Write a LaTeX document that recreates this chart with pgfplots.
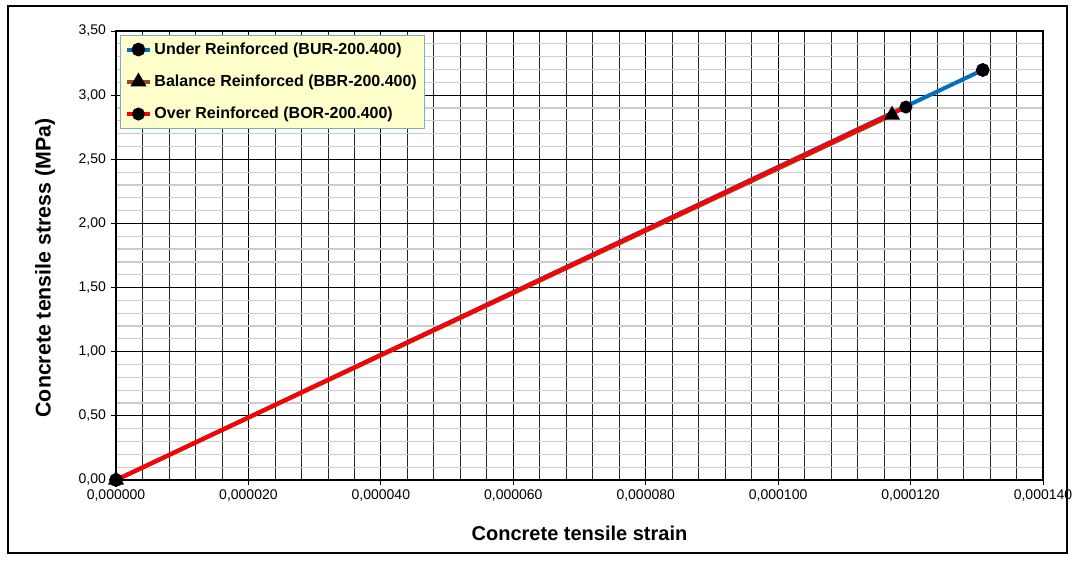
\documentclass[border=0pt]{standalone}
\usepackage{pgfplots}
\pgfplotsset{compat=1.18}
\usepackage{fontspec}
\setmainfont{Liberation Sans}
\definecolor{ublue}{RGB}{0,112,192}
\definecolor{bbrown}{RGB}{150,75,30}
\definecolor{legfill}{RGB}{255,255,204}
\definecolor{legdraw}{RGB}{120,170,220}
\begin{document}
\begin{tikzpicture}
\useasboundingbox (-87pt,-60.75pt) rectangle (717.75pt,360pt);
\draw[line width=1.5pt] (-81pt,-54.75pt) rectangle (713.25pt,355.5pt);
\begin{axis}[
    at={(0,0)}, anchor=south west,
    scale only axis, width=695.25pt, height=336.75pt,
    xmin=0, xmax=0.00014, ymin=0, ymax=3.5,
    xtick={0,0.00002,0.00004,0.00006,0.00008,0.0001,0.00012,0.00014},
    ytick={0,0.5,1,1.5,2,2.5,3,3.5},
    minor x tick num=4, minor y tick num=4,
    grid=both,
    major grid style={black, line width=0.6pt},
    minor x grid style={black!85, line width=0.5pt},
    minor y grid style={black!20, line width=0.9pt},
    axis line style={black, line width=0.8pt},
    tick align=outside, major tick length=4pt, minor tick length=0pt,
    xtick pos=left, ytick pos=left,
    tick style={black, line width=0.6pt},
    scaled x ticks=false, scaled y ticks=false,
    xticklabel style={/pgf/number format/.cd, fixed, fixed zerofill, precision=6, use comma, assume math mode=true},
    yticklabel style={/pgf/number format/.cd, fixed, fixed zerofill, precision=2, use comma, assume math mode=true},
    ticklabel style={font=\fontsize{10.5}{12}\selectfont},
    xlabel={Concrete tensile strain},
    ylabel={Concrete tensile stress (MPa)},
    xlabel style={font=\bfseries\fontsize{15}{18}\selectfont,
        at={(axis description cs:0.5,0)}, anchor=center, yshift=-39.75pt},
    ylabel style={font=\bfseries\fontsize{16}{18}\selectfont,
        at={(axis description cs:0,0.5)}, anchor=center, yshift=53.25pt, xshift=-9.4pt},
    legend style={at={(axis description cs:0,1)}, anchor=north west, xshift=3pt, yshift=-3pt,
        fill=legfill, draw=legdraw, line width=0.6pt,
        font=\bfseries\fontsize{12}{14}\selectfont, row sep=10pt, inner sep=3.5pt},
    legend cell align=left,
    mark options={solid, fill=black, draw=black},
]
\addplot[ublue, line width=3pt, mark=*, mark size=3.6pt] coordinates {
    (0,0) (0.0001309,3.196)};
\addlegendentry{Under Reinforced (BUR-200.400)}
\addplot[bbrown, line width=3pt, mark=triangle*, mark size=4pt] coordinates {
    (0,0) (0.0001172,2.845)};
\addlegendentry{Balance Reinforced (BBR-200.400)}
\addplot[red, line width=3pt, mark=*, mark size=3.3pt] coordinates {
    (0,0) (0.0001193,2.907)};
\addlegendentry{Over Reinforced (BOR-200.400)}
\end{axis}
\end{tikzpicture}
\end{document}
